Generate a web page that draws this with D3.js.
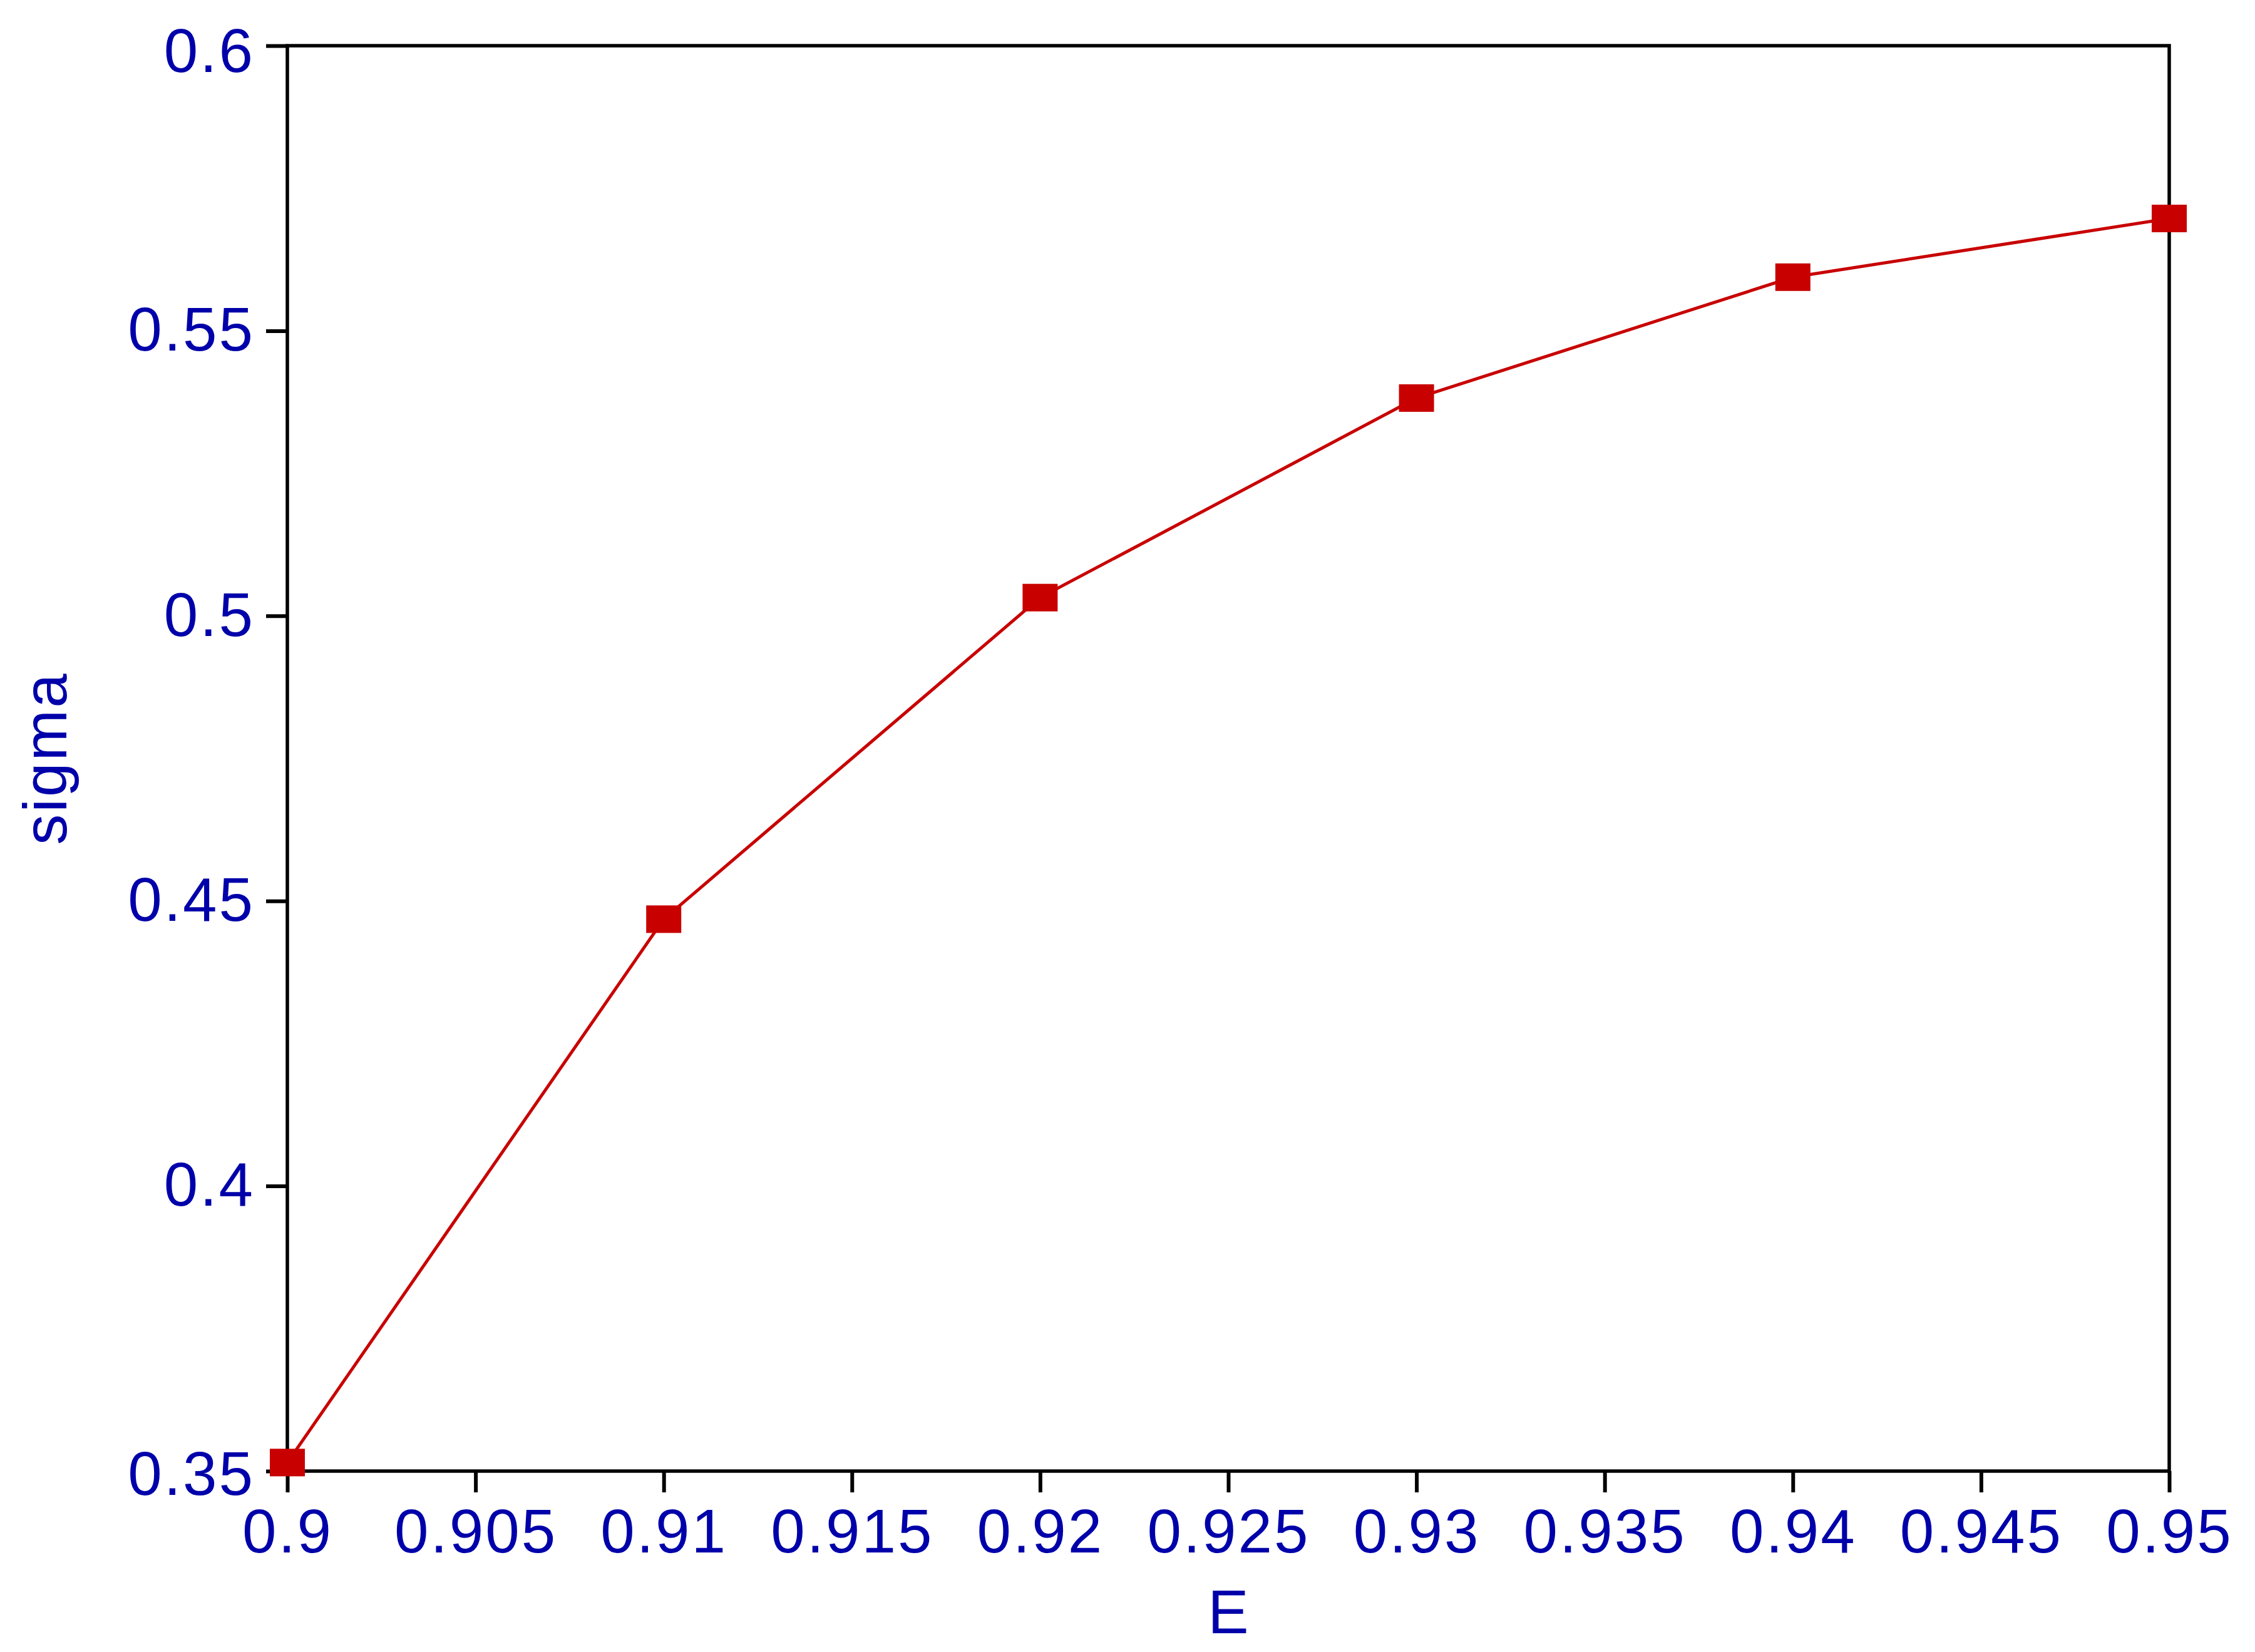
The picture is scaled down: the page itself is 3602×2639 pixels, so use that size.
<!DOCTYPE html>
<html>
<head>
<meta charset="utf-8">
<script src="https://cdn.jsdelivr.net/npm/d3@7"></script>
<style>
  html, body { margin: 0; padding: 0; background: #fff; }
  svg { display: block; }
</style>
</head>
<body>
<div id="chart"></div>
<script>
// values
const eValues = [0.9, 0.91, 0.92, 0.93, 0.94, 0.95];
const sigmaValues = [0.3515, 0.4468, 0.5032, 0.5382, 0.5594, 0.5697];

const xTickValues = [0.9, 0.905, 0.91, 0.915, 0.92, 0.925, 0.93, 0.935, 0.94, 0.945, 0.95];
const yTickValues = [0.35, 0.4, 0.45, 0.5, 0.55, 0.6];

const X_LABEL = "E";
const Y_LABEL = "sigma";

const WIDTH = 3602;
const HEIGHT = 2639;
const PLOT_LEFT = 459;
const PLOT_RIGHT = 3465;
const PLOT_TOP = 73;
const PLOT_BOTTOM = 2350;

const TEXT_COLOR = "#0000aa";
const LINE_COLOR = "#c80000";
const FONT = "'Liberation Sans', Arial, sans-serif";
const FONT_SIZE = 98;
const LETTER_SPACING = 3;
const TICK_LEN = 34;
const MARKER_W = 56;
const MARKER_H = 44;

const svg = d3
  .select("#chart")
  .append("svg")
  .attr("width", WIDTH)
  .attr("height", HEIGHT)
  .attr("viewBox", [0, 0, WIDTH, HEIGHT]);

const x = d3.scaleLinear().domain([0.9, 0.95]).range([PLOT_LEFT, PLOT_RIGHT]);
const y = d3.scaleLinear().domain([0.35, 0.6]).range([PLOT_BOTTOM, PLOT_TOP]);

const fmt = (v) => String(+v.toFixed(3));

// x axis
const xAxisG = svg
  .append("g")
  .attr("transform", `translate(0,${PLOT_BOTTOM})`)
  .call(
    d3.axisBottom(x)
      .tickValues(xTickValues)
      .tickFormat(fmt)
      .tickSize(TICK_LEN)
      .tickPadding(26)
  );

// y axis
const yAxisG = svg
  .append("g")
  .attr("transform", `translate(${PLOT_LEFT},0)`)
  .call(
    d3.axisLeft(y)
      .tickValues(yTickValues)
      .tickFormat(fmt)
      .tickSize(TICK_LEN)
      .tickPadding(18)
  );

[xAxisG, yAxisG].forEach((g) => {
  g.select(".domain").remove();
  g.selectAll(".tick line").attr("stroke", "#000").attr("stroke-width", 6);
  g.selectAll(".tick text")
    .attr("fill", TEXT_COLOR)
    .style("font-family", FONT)
    .style("font-size", FONT_SIZE + "px")
    .style("letter-spacing", LETTER_SPACING + "px");
});

// top and bottom y labels sit a little lower in the reference
yAxisG.selectAll(".tick text")
  .filter((d) => d === 0.6)
  .attr("dy", "0.42em");
yAxisG.selectAll(".tick text")
  .filter((d) => d === 0.35)
  .attr("dy", "0.38em");

// frame
svg
  .append("rect")
  .attr("x", PLOT_LEFT)
  .attr("y", PLOT_TOP)
  .attr("width", PLOT_RIGHT - PLOT_LEFT)
  .attr("height", PLOT_BOTTOM - PLOT_TOP)
  .attr("fill", "none")
  .attr("stroke", "#000")
  .attr("stroke-width", 5.5);

// series line
const points = eValues.map((e, i) => ({ e, s: sigmaValues[i] }));

svg
  .append("path")
  .datum(points)
  .attr("fill", "none")
  .attr("stroke", LINE_COLOR)
  .attr("stroke-width", 5)
  .attr(
    "d",
    d3.line()
      .x((d) => x(d.e))
      .y((d) => y(d.s))
  );

svg
  .append("g")
  .selectAll("rect")
  .data(points)
  .join("rect")
  .attr("x", (d) => x(d.e) - MARKER_W / 2)
  .attr("y", (d) => y(d.s) - MARKER_H / 2)
  .attr("width", MARKER_W)
  .attr("height", MARKER_H)
  .attr("fill", LINE_COLOR);

// axis titles
svg
  .append("text")
  .attr("x", (PLOT_LEFT + PLOT_RIGHT) / 2)
  .attr("y", 2609)
  .attr("text-anchor", "middle")
  .attr("fill", TEXT_COLOR)
  .style("font-family", FONT)
  .style("font-size", FONT_SIZE + "px")
  .text(X_LABEL);

svg
  .append("text")
  .attr("transform", `translate(106,${(PLOT_TOP + PLOT_BOTTOM) / 2}) rotate(-90)`)
  .attr("text-anchor", "middle")
  .attr("fill", TEXT_COLOR)
  .style("font-family", FONT)
  .style("font-size", FONT_SIZE + "px")
  .style("letter-spacing", LETTER_SPACING + "px")
  .text(Y_LABEL);
</script>
</body>
</html>
